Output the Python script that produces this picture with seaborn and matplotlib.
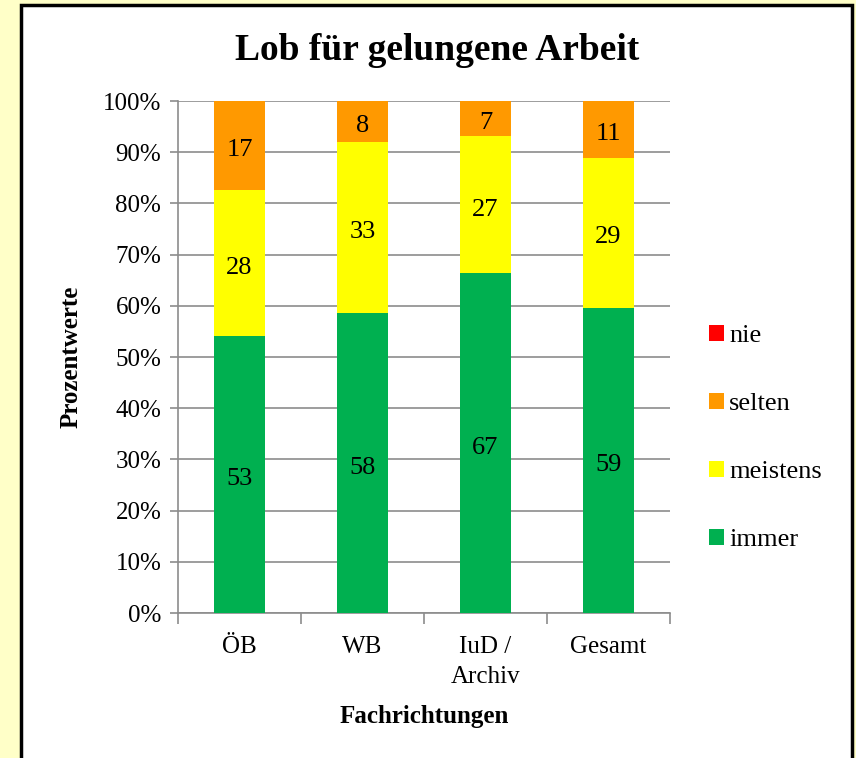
import pandas as pd
import seaborn as sns
import matplotlib.pyplot as plt
from matplotlib.patches import Rectangle, Patch

# Werte aus dem Diagramm (Prozent, je Fachrichtung)
fachrichtungen = ['ÖB', 'WB', 'IuD /\nArchiv', 'Gesamt']
immer = [53, 58, 67, 59]
meistens = [28, 33, 27, 29]
selten = [17, 8, 7, 11]
nie = [0, 0, 0, 0]

series = ['immer', 'meistens', 'selten', 'nie']
colors = {'immer': '#00B050', 'meistens': '#FFFF00', 'selten': '#FF9900', 'nie': '#FF0000'}

df = pd.DataFrame({'Fachrichtung': fachrichtungen, 'immer': immer,
                   'meistens': meistens, 'selten': selten, 'nie': nie})
# 100%-gestapelt: auf Summe normieren
total = df[series].sum(axis=1)
for s in series:
    df[s + '_pct'] = df[s] / total * 100

sns.set_style('white')
plt.rcParams['font.family'] = ['Liberation Serif', 'DejaVu Serif']
plt.rcParams['text.color'] = 'black'
plt.rcParams['axes.labelcolor'] = 'black'
plt.rcParams['xtick.color'] = 'black'
plt.rcParams['ytick.color'] = 'black'

fig = plt.figure(figsize=(8.56, 7.58), dpi=100)
fig.patch.set_facecolor('#FFFFC8')
fig.patches.append(Rectangle((21 / 856, -0.02), (852 - 21) / 856, 1.02 - 5 / 758,
                             transform=fig.transFigure, facecolor='white',
                             edgecolor='black', linewidth=2.5, zorder=-5))

ax = fig.add_axes([178 / 856, 1 - 613 / 758, 492 / 856, 512 / 758])
ax.set_facecolor('none')

bottom = pd.Series([0.0] * len(df))
for s in series:
    sns.barplot(data=df, x='Fachrichtung', y=s + '_pct', color=colors[s],
                bottom=bottom.values, width=0.41, ax=ax, saturation=1,
                linewidth=0, zorder=3)
    for i, (v, p) in enumerate(zip(df[s], df[s + '_pct'])):
        if v > 0:
            ax.text(i, bottom[i] + p / 2 - 0.9, str(v), ha='center', va='center',
                    fontsize=19, color='black', zorder=4)
    bottom = bottom + df[s + '_pct']

ax.set_xlim(-0.5, 3.5)
ax.set_ylim(0, 100)
ax.set_yticks(range(0, 101, 10))
ax.set_yticklabels([f'{t}%' for t in range(0, 101, 10)], fontsize=18)
ax.yaxis.grid(True, color='#8C8C8C', linewidth=1.2, zorder=0)
ax.set_axisbelow(True)
for side in ['top', 'right']:
    ax.spines[side].set_visible(False)
for side in ['left', 'bottom']:
    ax.spines[side].set_color('#8C8C8C')
    ax.spines[side].set_linewidth(1.2)

ax.tick_params(axis='y', which='major', left=True, length=6, width=1.2,
               color='#8C8C8C', pad=6)
ax.set_xticks([-0.5, 0.5, 1.5, 2.5, 3.5], minor=True)
ax.tick_params(axis='x', which='minor', bottom=True, length=8, width=1.2,
               color='#8C8C8C', direction='out')
ax.tick_params(axis='x', which='major', bottom=False, labelsize=18, pad=13)
for lbl in ax.get_xticklabels():
    lbl.set_linespacing(1.5)

ax.set_xlabel('Fachrichtungen', fontsize=18, fontweight='bold', labelpad=12)
ax.set_ylabel('Prozentwerte', fontsize=18, fontweight='bold', labelpad=15)

fig.text(437 / 856, 1 - 51 / 758, 'Lob für gelungene Arbeit', ha='center',
         va='center', fontsize=27, fontweight='bold')

handles = [Patch(facecolor=colors[s], edgecolor='none', label=s) for s in reversed(series)]
fig.legend(handles=handles, loc='center left', bbox_to_anchor=(0.801, 0.422),
           frameon=False, fontsize=19, handlelength=0.55, handleheight=0.55,
           handletextpad=0.2, labelspacing=1.73)

fig.savefig('out.png', dpi=100, facecolor=fig.get_facecolor())
